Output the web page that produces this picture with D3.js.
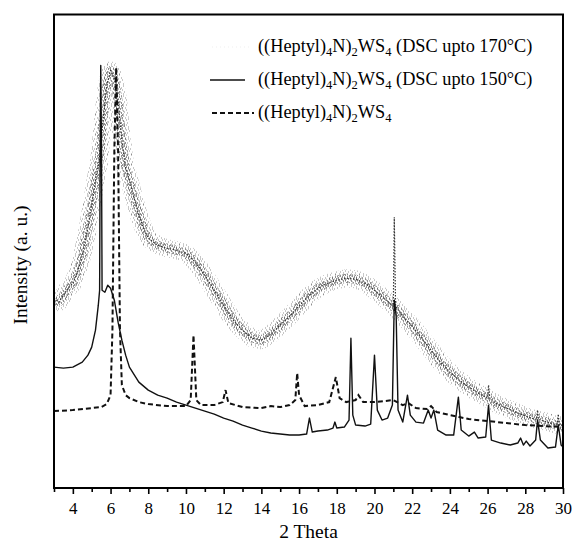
<!DOCTYPE html>
<html>
<head>
<meta charset="utf-8">
<script src="https://cdn.jsdelivr.net/npm/d3@7"></script>
<style>
  body { margin: 0; background: #fff; }
  text { font-family: "Liberation Serif", "Times New Roman", Times, "DejaVu Serif", serif; fill: #000; }
</style>
</head>
<body>
<div id="chart"></div>
<script>
// [2 theta, intensity (a.u., curves offset as in the figure)]
const dsc170 = [
  [3.0, 95], [3.25, 93], [3.5, 96.5], [3.75, 100], [4.0, 102.5], [4.25, 108], [4.5, 116.5],
  [4.75, 128], [5.0, 141.5], [5.2, 154], [5.4, 164], [5.6, 184], [5.8, 201.5], [6.0, 209],
  [6.2, 205], [6.4, 194], [6.6, 174], [6.8, 160], [7.0, 154], [7.25, 145], [7.5, 136.5],
  [7.75, 130], [8.0, 125], [8.5, 121.5], [9.0, 120], [9.5, 119], [10.0, 117.5], [10.5, 113],
  [11.0, 106.5], [11.5, 99], [12.0, 91.5], [12.5, 84], [13.0, 79], [13.5, 75], [14.0, 74],
  [14.5, 77], [15.0, 81.5], [15.5, 86], [16.0, 91], [16.5, 96], [17.0, 100], [17.5, 102.5],
  [18.0, 104], [18.5, 105], [19.0, 104.5], [19.5, 102.5], [20.0, 99], [20.5, 95], [21.0, 91],
  [21.5, 86], [22.0, 81], [22.5, 75], [23.0, 69], [23.5, 63], [24.0, 58], [24.5, 54],
  [25.0, 50.5], [25.5, 47.5], [26.0, 45], [26.5, 42], [27.0, 40], [27.5, 38], [28.0, 36],
  [28.5, 34.5], [29.0, 33.5], [29.5, 32], [30.0, 31]
];
// sharp reflections riding on the 170 C trace
const dsc170Spikes = [
  [20.98, 91], [21.05, 135.5], [21.12, 91],
  [25.98, 45], [26.05, 51.5], [26.12, 44.8],
  [28.6, 34.4], [28.65, 39], [28.7, 34.2],
  [29.7, 32], [29.75, 37], [29.8, 31.8]
];

const dsc150 = [
  [3.0, 60.5], [3.5, 60], [4.0, 60.5], [4.5, 63], [4.8, 66.5], [5.0, 70.5], [5.2, 79],
  [5.35, 91.5], [5.42, 99], [5.45, 169], [5.48, 211.5], [5.52, 169], [5.55, 99], [5.7, 98],
  [5.85, 101.5], [6.0, 100], [6.2, 94], [6.4, 83], [6.6, 74], [6.8, 66.5], [7.0, 60.5],
  [7.5, 53], [8.0, 49], [8.5, 46.5], [9.0, 45], [9.5, 43], [10.0, 41.5], [10.5, 40],
  [11.0, 38.5], [11.5, 37], [12.0, 35], [12.5, 33.5], [13.0, 31.5], [13.5, 30], [14.0, 28.5],
  [14.5, 27.5], [15.0, 27], [15.5, 26.5], [16.0, 26.5], [16.4, 27], [16.55, 35], [16.7, 28],
  [17.0, 28.5], [17.5, 29], [17.8, 30], [17.9, 33], [18.0, 30], [18.4, 30.5], [18.65, 34],
  [18.75, 75], [18.85, 36.5], [19.0, 31.5], [19.5, 31], [19.8, 32], [20.0, 66.5], [20.15, 39],
  [20.4, 34], [20.7, 35], [20.95, 41.5], [21.05, 94], [21.15, 86.5], [21.25, 39], [21.5, 33],
  [21.75, 46.5], [21.9, 36.5], [22.2, 33], [22.6, 32.5], [22.85, 39], [23.0, 35], [23.15, 39],
  [23.35, 29], [23.8, 26.5], [24.2, 26.5], [24.45, 45.5], [24.6, 29], [25.0, 26], [25.3, 28],
  [25.5, 25], [25.9, 25.5], [26.05, 41.5], [26.2, 24], [26.7, 22.5], [27.2, 21.5], [27.6, 22.5],
  [27.75, 25], [27.9, 21.5], [28.05, 23.5], [28.25, 21], [28.55, 24], [28.65, 34], [28.8, 24],
  [29.2, 20], [29.6, 20.5], [29.75, 31.5], [29.9, 21.5], [30.0, 20.5]
];

const pristine = [
  [3.0, 38.5], [4.0, 39], [5.0, 40], [5.5, 40.5], [5.8, 42], [6.0, 46.5], [6.1, 79],
  [6.2, 169], [6.3, 210.5], [6.4, 169], [6.5, 79], [6.6, 51.5], [6.8, 46.5], [7.0, 45],
  [7.5, 43], [8.0, 42], [9.0, 41], [10.0, 41], [10.25, 44], [10.4, 76.5], [10.55, 44],
  [10.8, 41.5], [11.5, 41.5], [11.95, 43], [12.1, 49], [12.25, 42.5], [13.0, 40.5], [14.0, 40],
  [14.5, 41], [15.0, 40.5], [15.5, 41.5], [15.8, 44], [15.9, 57.5], [16.0, 46.5], [16.3, 41],
  [17.0, 41.5], [17.6, 43], [17.95, 55.5], [18.15, 45], [18.5, 43], [19.0, 44], [19.15, 46.5],
  [19.4, 43], [20.0, 43], [20.5, 43.5], [21.0, 44], [21.5, 41.5], [21.8, 42.5], [22.2, 40],
  [22.8, 39.5], [23.0, 41], [23.3, 38], [24.0, 36.5], [24.5, 35.5], [25.0, 34.5], [26.0, 33.5],
  [27.0, 32.5], [28.0, 31.5], [29.0, 31], [30.0, 30.5]
];

const majorTicks = d3.range(4, 31, 2);
const minorTicks = d3.range(3, 30, 2);

const width = 576, height = 547;
const margin = {top: 14.5, right: 13, bottom: 59, left: 54};
const plotW = width - margin.left - margin.right;
const plotH = height - margin.top - margin.bottom;
const serif = '"Liberation Serif", "Times New Roman", Times, "DejaVu Serif", serif';

const svg = d3.select("#chart").append("svg")
  .attr("width", width)
  .attr("height", height);

// irregular speckle tiles to imitate the noisy dotted trace
const defs = svg.append("defs");
function speckle(id, dots, fill) {
  const p = defs.append("pattern")
    .attr("id", id)
    .attr("patternUnits", "userSpaceOnUse")
    .attr("width", 12).attr("height", 10);
  dots.forEach(([px, py]) => {
    p.append("rect").attr("x", px).attr("y", py).attr("width", 1).attr("height", 1).attr("fill", fill);
  });
}
speckle("speckA", [[0, 0], [5, 0], [9, 1], [2, 2], [7, 3], [11, 3], [4, 4], [0, 5], [8, 5],
  [3, 6], [10, 7], [6, 7], [1, 8], [5, 9], [9, 9], [2, 4]], "#444");
speckle("speckB", [[1, 0], [3, 0], [7, 1], [10, 1], [0, 2], [5, 2], [8, 3], [2, 3], [11, 4], [6, 4],
  [3, 5], [9, 6], [1, 6], [5, 7], [7, 8], [11, 8], [2, 9], [4, 8], [10, 9], [8, 0]], "#222");

const g = svg.append("g")
  .attr("transform", "translate(" + margin.left + "," + margin.top + ")");

const x = d3.scaleLinear().domain([3, 30]).range([0, plotW]);
const y = d3.scaleLinear().domain([0, 237]).range([plotH, 0]);

const line = d3.line()
  .x(d => x(d[0]))
  .y(d => y(d[1]));

g.append("defs").append("clipPath").attr("id", "clip")
  .append("rect").attr("width", plotW).attr("height", plotH);

const curves = g.append("g").attr("clip-path", "url(#clip)");

// DSC upto 170 C - noisy dotted trace
curves.append("path")
  .datum(dsc170)
  .attr("d", line)
  .attr("fill", "none")
  .attr("stroke", "url(#speckA)")
  .attr("stroke-width", 18)
  .attr("stroke-linejoin", "round")
  .attr("opacity", 0.6);
curves.append("path")
  .datum(dsc170)
  .attr("d", line)
  .attr("fill", "none")
  .attr("stroke", "url(#speckB)")
  .attr("stroke-width", 9)
  .attr("stroke-linejoin", "round");
const full170 = dsc170.concat(dsc170Spikes).sort((a, b) => a[0] - b[0]);
curves.append("path")
  .datum(full170)
  .attr("d", line)
  .attr("fill", "none")
  .attr("stroke", "#333")
  .attr("stroke-width", 1.2)
  .attr("stroke-dasharray", "1.5,1.5");

// DSC upto 150 C - solid
curves.append("path")
  .datum(dsc150)
  .attr("d", line)
  .attr("fill", "none")
  .attr("stroke", "#111")
  .attr("stroke-width", 1.4)
  .attr("stroke-linejoin", "round");

// pristine - dashed
curves.append("path")
  .datum(pristine)
  .attr("d", line)
  .attr("fill", "none")
  .attr("stroke", "#111")
  .attr("stroke-width", 2)
  .attr("stroke-dasharray", "5,3");

// frame
g.append("rect")
  .attr("width", plotW).attr("height", plotH)
  .attr("fill", "none")
  .attr("stroke", "#000")
  .attr("stroke-width", 2);

// bottom axis, major + minor ticks
const xAxis = g.append("g")
  .attr("transform", "translate(0," + plotH + ")")
  .call(d3.axisBottom(x).tickValues(majorTicks).tickSize(6).tickPadding(8).tickFormat(d3.format("d")));
xAxis.select(".domain").remove();
xAxis.selectAll("line").attr("stroke-width", 1.6);
xAxis.selectAll("text")
  .style("font-family", serif)
  .style("font-size", "17px");

const xMinor = g.append("g")
  .attr("transform", "translate(0," + plotH + ")")
  .call(d3.axisBottom(x).tickValues(minorTicks).tickSize(4).tickFormat(""));
xMinor.select(".domain").remove();
xMinor.selectAll("line").attr("stroke-width", 1.6);

// axis titles
svg.append("text")
  .attr("x", margin.left + plotW / 2)
  .attr("y", 538)
  .attr("text-anchor", "middle")
  .style("font-family", serif)
  .style("font-size", "19.5px")
  .text("2 Theta");

svg.append("text")
  .attr("transform", "translate(27,265) rotate(-90)")
  .attr("text-anchor", "middle")
  .style("font-family", serif)
  .style("font-size", "19.5px")
  .text("Intensity (a. u.)");

// legend
const legendItems = [
  {tail: " (DSC upto 170°C)", kind: "dot"},
  {tail: " (DSC upto 150°C)", kind: "solid"},
  {tail: "", kind: "dash"}
];
const legend = svg.append("g");
legendItems.forEach((item, i) => {
  const ly = 47 + i * 33;
  if (item.kind === "solid") {
    legend.append("line").attr("x1", 210).attr("x2", 245).attr("y1", ly).attr("y2", ly)
      .attr("stroke", "#111").attr("stroke-width", 1.4);
  } else if (item.kind === "dash") {
    legend.append("line").attr("x1", 212).attr("x2", 254).attr("y1", ly).attr("y2", ly)
      .attr("stroke", "#111").attr("stroke-width", 2).attr("stroke-dasharray", "5,3");
  } else {
    legend.append("line").attr("x1", 212).attr("x2", 250).attr("y1", ly).attr("y2", ly)
      .attr("stroke", "#e4e4e4").attr("stroke-width", 0.6).attr("stroke-dasharray", "1,3");
  }
  const t = legend.append("text")
    .attr("x", 258).attr("y", ly + 5)
    .style("font-family", serif)
    .style("font-size", "18.3px");
  const parts = [["((Heptyl)", 0], ["4", 1], ["N)", 0], ["2", 1], ["WS", 0], ["4", 1], [item.tail, 0]];
  parts.forEach(([s, sub]) => {
    if (!s) return;
    t.append("tspan")
      .attr("baseline-shift", sub ? "-4" : null)
      .style("font-size", sub ? "12.5px" : null)
      .text(s);
  });
});
</script>
</body>
</html>
